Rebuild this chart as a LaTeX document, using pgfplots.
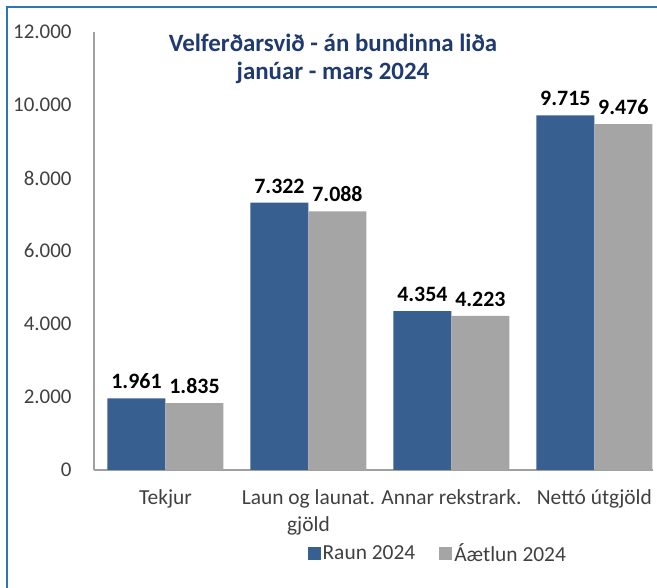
\documentclass[border=0pt]{standalone}
\usepackage{pgfplots}
\pgfplotsset{compat=1.18}
\usepackage{fontspec}
\setmainfont{Carlito}
\definecolor{raun}{HTML}{375F8F}
\definecolor{aaet}{HTML}{A5A5A5}
\definecolor{navy}{HTML}{1F3A70}
\definecolor{framec}{HTML}{2E75B6}
\definecolor{axgray}{HTML}{A0A0A0}
\definecolor{txt}{HTML}{404040}
\begin{document}
\begin{tikzpicture}
\path[use as bounding box] (0bp,0bp) rectangle (657bp,588bp);
\draw[framec, line width=2.5bp] (7bp,0bp) -- (7bp,581bp) -- (657bp,581bp);
\begin{axis}[
  at={(94bp,118bp)}, anchor=south west,
  scale only axis, width=559bp, height=438bp,
  ybar=0pt, bar width=58bp,
  xmin=-0.5, xmax=3.41, ymin=0, ymax=12000,
  axis lines*=left,
  axis line style={axgray, line width=1.2bp},
  xtick={0,1,2,3},
  xticklabels={Tekjur, {Laun og launat.\\gjöld}, Annar rekstrark., Nettó útgjöld},
  xticklabel style={align=center, font=\fontsize{21.5}{27}\selectfont, text=txt, yshift=-16bp},
  ytick={0,2000,...,12000},
  scaled y ticks=false,
  yticklabel style={font=\fontsize{21}{22}\selectfont, text=txt, xshift=-19bp},
  /pgf/number format/.cd, 1000 sep={.}, fixed, precision=0, assume math mode=true,
  /pgfplots/.cd,
  major tick length=0pt,
  nodes near coords,
  every node near coord/.append style={font=\fontsize{22}{24}\selectfont\bfseries, text=black, yshift=6bp},
  legend style={at={(0.615,-0.19)}, anchor=center, draw=none, legend columns=2,
    font=\fontsize{21.5}{24}\selectfont, text=txt,
    /tikz/every even column/.append style={column sep=22bp}},
  legend image code/.code={\fill[#1] (0bp,-6.5bp) rectangle (13bp,6.5bp);},
]
\addplot[fill=raun, draw=none] coordinates {(0,1961) (1,7322) (2,4354) (3,9715)};
\addplot[fill=aaet, draw=none] coordinates {(0,1835) (1,7088) (2,4223) (3,9476)};
\legend{Raun 2024, Áætlun 2024}
\end{axis}
\node[align=center, font=\fontsize{25}{28}\selectfont\bfseries, text=navy] at (333bp,529bp) {Velferðarsvið - án bundinna liða\\janúar - mars 2024};
\end{tikzpicture}
\end{document}
